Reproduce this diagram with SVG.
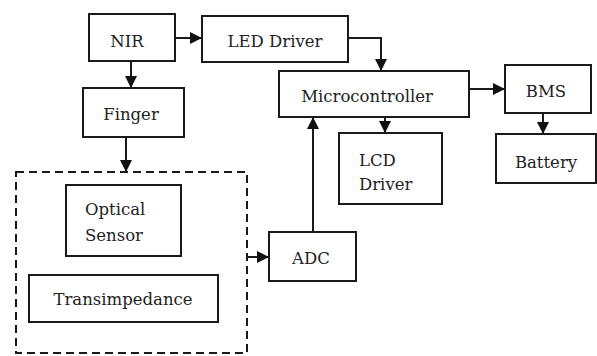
<svg xmlns="http://www.w3.org/2000/svg" width="597" height="356" viewBox="0 0 597 356">
<defs>
<marker id="ah" markerUnits="userSpaceOnUse" markerWidth="12" markerHeight="12" refX="12" refY="6" orient="auto">
<path d="M0,0 L12,6 L0,12 Z" fill="#111"/>
</marker>
<style>
.box{fill:#fff;stroke:#1a1a1a;stroke-width:2}
.dash{fill:none;stroke:#1a1a1a;stroke-width:2;stroke-dasharray:8 5}
.ln{fill:none;stroke:#1a1a1a;stroke-width:2}
text{font-family:"DejaVu Serif","Liberation Serif",serif;font-size:16.5px;fill:#222}
.c{text-anchor:middle}
</style>
</defs>
<rect width="597" height="356" fill="#fff"/>
<g id="connectors">
<path class="ln" d="M175,38 H202" marker-end="url(#ah)"/>
<path class="ln" d="M131,61 V88" marker-end="url(#ah)"/>
<path class="ln" d="M126,137 V172" marker-end="url(#ah)"/>
<path class="ln" d="M348,38 H381 V71" marker-end="url(#ah)"/>
<path class="ln" d="M469,89 H505" marker-end="url(#ah)"/>
<path class="ln" d="M543,113 V134" marker-end="url(#ah)"/>
<path class="ln" d="M385,117 V133" marker-end="url(#ah)"/>
<path class="ln" d="M313,232 V117" marker-end="url(#ah)"/>
<path class="ln" d="M247,257 H269" marker-end="url(#ah)"/>
</g>
<g id="nir"><rect class="box" x="89" y="14" width="86" height="47"/><text class="c" x="127" y="47">NIR</text></g>
<g id="led-driver"><rect class="box" x="202" y="16" width="146" height="46"/><text class="c" x="275" y="47">LED Driver</text></g>
<g id="finger"><rect class="box" x="83" y="88" width="101" height="49"/><text class="c" x="131" y="120">Finger</text></g>
<g id="microcontroller"><rect class="box" x="279" y="71" width="190" height="46"/><text class="c" x="367" y="102">Microcontroller</text></g>
<g id="bms"><rect class="box" x="505" y="65" width="86" height="48"/><text class="c" x="546" y="97">BMS</text></g>
<g id="battery"><rect class="box" x="496" y="134" width="100" height="49"/><text class="c" x="546" y="168">Battery</text></g>
<g id="lcd-driver"><rect class="box" x="339" y="133" width="103" height="71"/><text x="359" y="166">LCD</text><text x="359" y="190">Driver</text></g>
<g id="sensor-group"><rect class="dash" x="16" y="172" width="231" height="181"/></g>
<g id="optical-sensor"><rect class="box" x="66" y="185" width="115" height="71"/><text x="85" y="215">Optical</text><text x="85" y="241">Sensor</text></g>
<g id="transimpedance"><rect class="box" x="29" y="275" width="189" height="47"/><text class="c" x="123" y="305">Transimpedance</text></g>
<g id="adc"><rect class="box" x="269" y="232" width="87" height="49"/><text class="c" x="311" y="264">ADC</text></g>
</svg>
